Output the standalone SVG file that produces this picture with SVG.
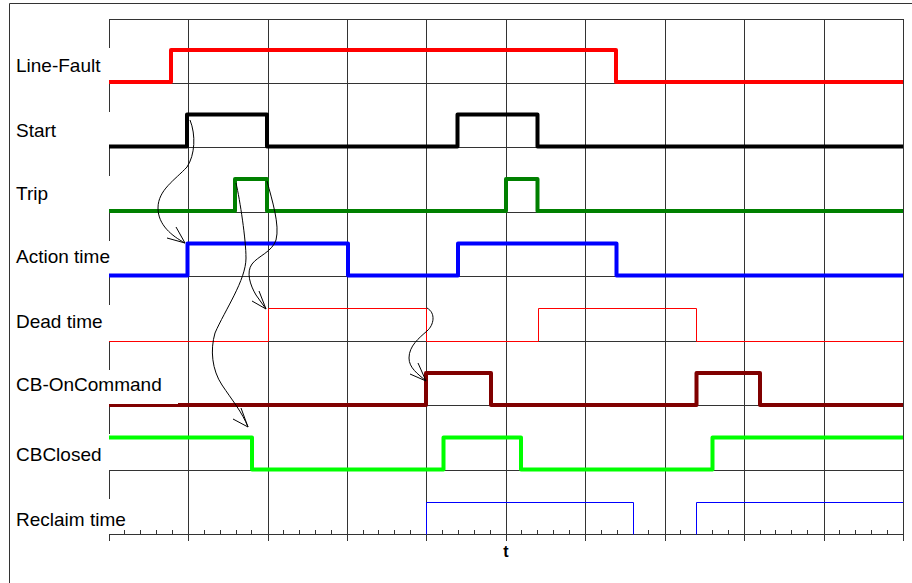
<svg xmlns="http://www.w3.org/2000/svg" width="912" height="583" viewBox="0 0 912 583">
<style>
.grid{stroke:#333;stroke-width:1;fill:none}
.sig{fill:none;stroke-width:4;stroke-linejoin:round;stroke-linecap:butt}
.thin{fill:none;stroke-width:1}
.lbl{font-family:"Liberation Sans",Arial,sans-serif;font-size:19px;fill:#000}
.arr{fill:none;stroke:#000;stroke-width:1}
</style>
<rect x="0" y="0" width="912" height="583" fill="#fff"/>
<path class="grid" d="M9.5,590 V3.5 H920"/>
<g id="grid">
<path class="grid" d="M109,19.5 H903.5 M109,83.5 H903.5 M109,147.5 H903.5 M109,212.5 H903.5 M109,276.5 H903.5 M109,341.5 H903.5 M109,405.5 H903.5 M109,470.5 H903.5 M109,534.5 H903.5"/>
<path class="grid" d="M188.5,19 V541 M268.5,19 V541 M347.5,19 V541 M426.5,19 V541 M506.5,19 V541 M585.5,19 V541 M665.5,19 V541 M744.5,19 V541 M824.5,19 V541 M903.5,19 V541"/>
<path class="grid" d="M109.5,19 V48 M109.5,83 V112 M109.5,147 V176 M109.5,212 V241 M109.5,276 V305 M109.5,341 V370 M109.5,405 V434 M109.5,470 V499 M109.5,534 V541"/>
<path class="grid" d="M124.5,530 V535 M140.5,530 V535 M156.5,530 V535 M172.5,530 V535 M204.5,530 V535 M220.5,530 V535 M236.5,530 V535 M251.5,530 V535 M283.5,530 V535 M299.5,530 V535 M315.5,530 V535 M331.5,530 V535 M363.5,530 V535 M378.5,530 V535 M394.5,530 V535 M410.5,530 V535 M442.5,530 V535 M458.5,530 V535 M474.5,530 V535 M490.5,530 V535 M521.5,530 V535 M537.5,530 V535 M553.5,530 V535 M569.5,530 V535 M601.5,530 V535 M617.5,530 V535 M633.5,530 V535 M648.5,530 V535 M680.5,530 V535 M696.5,530 V535 M712.5,530 V535 M728.5,530 V535 M760.5,530 V535 M775.5,530 V535 M791.5,530 V535 M807.5,530 V535 M839.5,530 V535 M855.5,530 V535 M871.5,530 V535 M887.5,530 V535"/>
</g>
<g id="line-fault">
<text class="lbl" x="16" y="72">Line-Fault</text>
<path class="sig" stroke="#ff0000" d="M109,82 H171 V50 H616 V82 H903"/>
</g>
<g id="start">
<text class="lbl" x="16" y="137">Start</text>
<path class="sig" stroke="#000000" d="M109,146.5 H187 V114.5 H267 V146.5 H457.5 V114.5 H537.5 V146.5 H903"/>
</g>
<g id="trip">
<text class="lbl" x="16" y="200">Trip</text>
<path class="sig" stroke="#008000" d="M109,211 H235 V179 H267 V211 H506 V179 H537.5 V211 H903"/>
</g>
<g id="action-time">
<text class="lbl" x="16" y="263">Action time</text>
<path class="sig" stroke="#0000ff" d="M109,275.5 H187.5 V243.5 H348 V275.5 H458 V243.5 H616.5 V275.5 H903"/>
</g>
<g id="dead-time">
<text class="lbl" x="16" y="328">Dead time</text>
<path class="thin" stroke="#ff0000" d="M109,341.5 H268.5 V308.5 H426.5 V341.5 H538.5 V308.5 H696.5 V341.5 H903"/>
</g>
<g id="cb-oncommand">
<text class="lbl" x="16" y="391">CB-OnCommand</text>
<path class="sig" stroke="#800000" stroke-width="3" style="stroke-width:3" d="M109,405.5 H179"/>
<path class="sig" stroke="#800000" d="M178,405 H426 V373 H491 V405 H696.5 V373 H760 V405 H903"/>
</g>
<g id="cbclosed">
<text class="lbl" x="16" y="461">CBClosed</text>
<path class="sig" stroke="#00ff00" d="M109,437.5 H252 V469.5 H443.5 V437.5 H521 V469.5 H712.5 V437.5 H903"/>
</g>
<g id="reclaim-time">
<text class="lbl" x="16" y="526">Reclaim time</text>
<path class="thin" stroke="#0000ff" d="M426.5,534.5 V502.5 H633.5 V534.5 M696.5,534.5 V502.5 H903"/>
</g>
<text x="506" y="557" text-anchor="middle" style="font-family:'Liberation Sans',Arial,sans-serif;font-size:16px;font-weight:bold">t</text>
<g id="connectors">
<path class="arr" d="M190,120 C196,135 195,155 187,167 C175,180 158,190 158,208 C158,225 172,236 185,243"/>
<path class="arr" d="M176,227 L185,243 L167,238"/>
<path class="arr" d="M236,183 C240,200 246,240 246,258 C246,280 225,310 215,333 C210,350 212,370 222,385 C232,400 242,412 248,427"/>
<path class="arr" d="M233,419 L248,427 L241,408"/>
<path class="arr" d="M267,181 C272,200 280,225 276,240 C272,252 258,256 252,264 C246,272 250,285 256,295 L266,309"/>
<path class="arr" d="M252,301 L266,309 L259,291"/>
<path class="arr" d="M427,308 C436,313 434,325 427,331 C419,338 409,346 409,358 C409,368 418,374 426,381"/>
<path class="arr" d="M410,374 L426,381 L418,363"/>
</g>
</svg>
